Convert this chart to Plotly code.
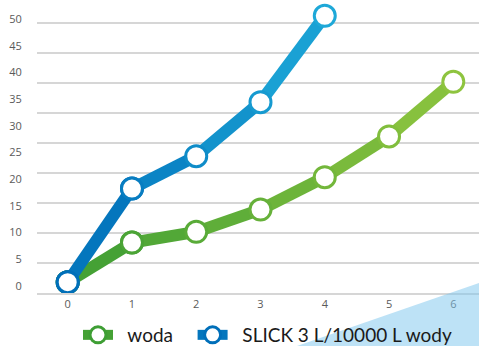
import plotly.graph_objects as go

# Series data
dni = [0, 1, 2, 3, 4, 5, 6]
woda = [1.8, 8.4, 10.2, 13.9, 19.3, 26.1, 35.2]
slick_x = [0, 1, 2, 3, 4]
slick = [1.8, 17.4, 22.8, 31.8, 46.2]

# Axis labels
y_labels = [0, 5, 10, 15, 20, 25, 30, 35, 40, 45, 50]
grid_vals = [0, 5, 10, 15, 20, 25, 30, 35, 40, 45]
x_labels = dni

names = ["woda", "SLICK 3 L/10000 L wody"]
green = ((0x3e, 0x9e, 0x34), (0x8e, 0xc4, 0x3f))
blue = ((0x00, 0x6f, 0xb9), (0x1e, 0xa8, 0xd8))

NBSP = "\u00a0"


def mix(c0, c1, t):
    return "rgb(%d,%d,%d)" % tuple(round(a + (b - a) * t) for a, b in zip(c0, c1))


fig = go.Figure()


def add_series(xs, ys, name, cols, pad_after):
    n = len(xs) - 1
    label = NBSP * 2 + name + NBSP * pad_after
    # line drawn segment by segment so the colour shades from left to right
    for i in range(n):
        t = (i + 0.5) / n
        first = i == 0
        fig.add_trace(go.Scatter(
            x=xs[i:i + 2], y=ys[i:i + 2],
            mode="lines+markers" if first else "lines",
            line=dict(color=mix(*cols, t), width=12),
            marker=dict(size=21, color="white",
                        line=dict(color=mix(*cols, 0.0), width=3)),
            name=label, legendgroup=name, showlegend=first,
            cliponaxis=False, hoverinfo="skip",
        ))
    fig.add_trace(go.Scatter(
        x=xs, y=ys, mode="markers",
        marker=dict(size=21, color="white",
                    line=dict(color=[mix(*cols, i / n) for i in range(n + 1)], width=3)),
        name=name, legendgroup=name, showlegend=False, cliponaxis=False,
    ))


add_series(dni, woda, names[0], green, 3)
add_series(slick_x, slick, names[1], blue, 0)

# empty trace that carries the printed value scale on the second y axis
fig.add_trace(go.Scatter(x=[None], y=[None], yaxis="y2", showlegend=False,
                         hoverinfo="skip"))

W, H = 479, 346
plot_top, plot_bottom = 5, 293
plot_left = 37
px_per_unit = 6.0
y_top = (plot_bottom - plot_top) / px_per_unit

# label scale for the printed y values
lab0, lab_unit = 285.7, 5.333
y2_bottom = -(plot_bottom - lab0) / lab_unit
y2_top = (lab0 - plot_top) / lab_unit

x_unit = (453.3 - 67.7) / 6
x_left = (plot_left - 67.7) / x_unit
x_right = (W - 67.7) / x_unit

plot_h = plot_bottom - plot_top
plot_w = W - plot_left
tick_font = dict(family="Open Sans", size=11, color="#5a5a5a")

fig.update_layout(
    width=W, height=H,
    margin=dict(l=plot_left, r=0, t=plot_top, b=H - plot_bottom, autoexpand=False),
    paper_bgcolor="white", plot_bgcolor="white",
    showlegend=True,
    legend=dict(orientation="h", xanchor="left", x=(78 - plot_left) / plot_w,
                y=-(335 - plot_bottom) / plot_h, yanchor="middle",
                font=dict(family="Lato", size=19, color="#1a1a1a"),
                bgcolor="rgba(0,0,0,0)", borderwidth=0,
                itemwidth=30, tracegroupgap=0),
    xaxis=dict(range=[x_left, x_right], tickvals=x_labels, showgrid=False,
               zeroline=False, showline=True, linecolor="#d6d6d6", linewidth=2,
               tickfont=tick_font, ticks="", ticklen=0),
    yaxis=dict(range=[0, y_top], tickvals=grid_vals, showticklabels=False,
               showgrid=True, gridcolor="#d6d6d6", gridwidth=2, zeroline=False),
    yaxis2=dict(range=[y2_bottom, y2_top], tickvals=y_labels, overlaying="y",
                side="left", anchor="x", showgrid=False, zeroline=False,
                tickfont=tick_font, ticks="outside", ticklen=12,
                tickcolor="rgba(0,0,0,0)"),
    # pale corner wedge; half-transparent so the tick label and axis show through
    shapes=[dict(type="path", xref="paper", yref="paper", layer="above",
                 path="M %f,%f L 1,%f L 1,%f Z" % (
                     (297 - plot_left) / plot_w,
                     -(H - plot_bottom) / plot_h,
                     -(H - plot_bottom) / plot_h,
                     -(283 - plot_bottom) / plot_h),
                 fillcolor="#7bc5ed", opacity=0.5, line=dict(width=0))],
)

fig.write_html("out.html")
